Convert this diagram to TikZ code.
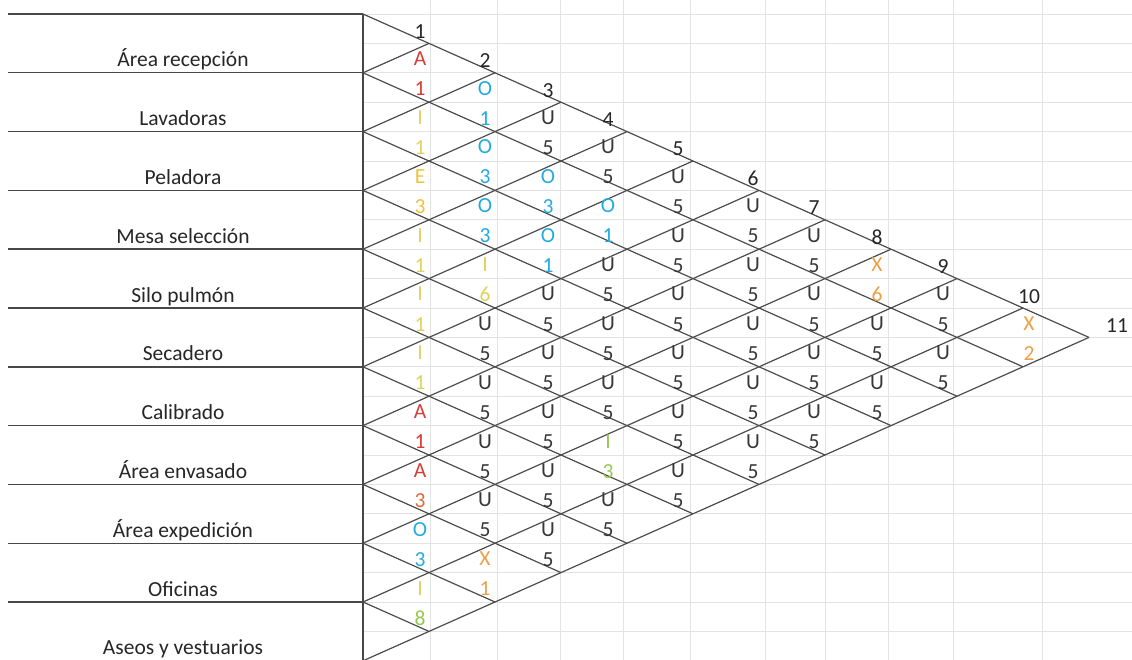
\documentclass[tikz,border=0pt]{standalone}
\usepackage{fontspec}
\setmainfont{Carlito}
\usepackage{tikz}
\definecolor{relA}{RGB}{215,60,55}
\definecolor{relAo}{RGB}{225,105,55}
\definecolor{relE}{RGB}{238,195,60}
\definecolor{relI}{RGB}{225,210,95}
\definecolor{relIg}{RGB}{150,200,80}
\definecolor{relO}{RGB}{35,170,225}
\definecolor{relX}{RGB}{235,160,70}
\definecolor{relU}{RGB}{55,55,55}
\tikzset{
  gridline/.style  = {draw=black!11, line width=0.9pt},
  rowline/.style   = {draw=black!72, line width=1.4pt},
  chartline/.style = {draw=black!70, line width=1.2pt},
  deplabel/.style  = {anchor=base, inner sep=0pt, text=black!85,
                      font=\fontsize{21.5}{24}\selectfont},
  colnum/.style    = {anchor=base, inner sep=0pt, text=black!85,
                      font=\fontsize{21.5}{24}\selectfont},
  relcode/.style   = {anchor=base, inner sep=0pt,
                      font=\fontsize{21.5}{24}\selectfont}
}

\begin{document}
\begin{tikzpicture}[x=1pt, y=-1pt]
  \useasboundingbox (0,0) rectangle (1132,660);
  % spreadsheet grid behind the chart
  \foreach \gx in {430,497,560,623,690,765,825,888,953,1042}
    \draw[gridline] (\gx,0) -- (\gx,660);
  \foreach \k in {0,...,22}
    \draw[gridline] (363,14+\k*29.4) -- (1132,14+\k*29.4);
  % department rows
  \foreach \k in {0,...,10}
    \draw[rowline] (8,14+\k*58.8) -- (363,14+\k*58.8);
  \draw[rowline] (363,14) -- (363,661);
  % diamond net
  \foreach \k in {0,...,10}
    \draw[chartline] (363,14+\k*58.8) -- ++({(11-\k)*66},{(11-\k)*29.4});
  \foreach \k in {1,...,11}
    \draw[chartline] (363,14+\k*58.8) -- ++({\k*66},{-\k*29.4});
  % departments
  \foreach \dep [count=\k] in {Área recepción, Lavadoras, Peladora,
      Mesa selección, Silo pulmón, Secadero, Calibrado, Área envasado,
      Área expedición, Oficinas, Aseos y vestuarios}
    \node[deplabel] (dep\k) at (183,14+\k*58.8-6) {\dep};
  % column numbers
  \foreach \k/\hx in {1/420,2/485,3/548,4/608,5/678,6/753,7/814,8/877,
      9/943,10/1029,11/1117}
    \node[colnum] (num\k) at (\hx,9+\k*29.4) {\k};
  % coded relations
  \foreach \i/\j/\rel/\why/\lc/\nc in {
      1/2/A/1/relA/relA, 2/3/I/1/relI/relI, 3/4/E/3/relE/relE,
      4/5/I/1/relI/relI, 5/6/I/1/relI/relI, 6/7/I/1/relI/relI,
      7/8/A/1/relA/relA, 8/9/A/3/relA/relAo, 9/10/O/3/relO/relO,
      10/11/I/8/relI/relIg,
      1/3/O/1/relO/relO, 2/4/O/3/relO/relO, 3/5/O/3/relO/relO,
      4/6/I/6/relI/relI, 9/11/X/1/relX/relX,
      2/5/O/3/relO/relO, 3/6/O/1/relO/relO,
      2/6/O/1/relO/relO, 6/10/I/3/relIg/relIg,
      1/9/X/6/relX/relX, 1/11/X/2/relX/relX}{
    \pgfmathsetmacro\cx{{420,485,548,608,678,753,814,877,943,1029}[int(\j-\i-1)]}
    \pgfmathsetmacro\cy{14+(\i+\j-1)*29.4}
    \node[relcode, text=\lc] (rel\i-\j) at (\cx,\cy-7) {\rel};
    \node[relcode, text=\nc] (why\i-\j) at (\cx,\cy+23) {\why};
  }
  % unimportant relations
  \foreach \i/\j in {5/7,6/8,7/9,8/10, 1/4,4/7,5/8,6/9,7/10,8/11,
      1/5,3/7,4/8,5/9,7/11, 1/6,2/7,3/8,4/9,5/10,6/11,
      1/7,2/8,3/9,4/10,5/11, 1/8,2/9,3/10,4/11, 2/10,3/11, 1/10,2/11}{
    \pgfmathsetmacro\cx{{420,485,548,608,678,753,814,877,943,1029}[int(\j-\i-1)]}
    \pgfmathsetmacro\cy{14+(\i+\j-1)*29.4}
    \node[relcode, text=relU] (rel\i-\j) at (\cx,\cy-7) {U};
    \node[relcode, text=relU] (why\i-\j) at (\cx,\cy+23) {5};
  }
\end{tikzpicture}
\end{document}
